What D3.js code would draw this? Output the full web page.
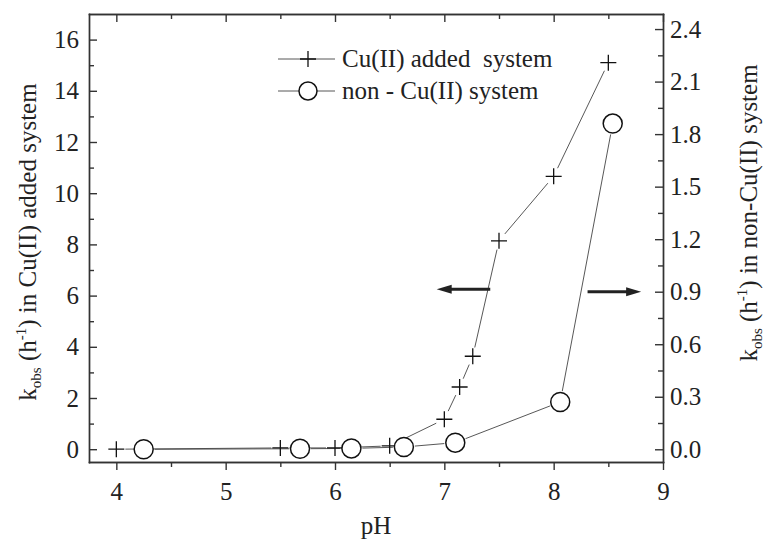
<!DOCTYPE html>
<meta charset="utf-8">
<html>
<head>
<title>kobs vs pH</title>
<script src="https://cdnjs.cloudflare.com/ajax/libs/d3/7.8.5/d3.min.js"></script>
<style>
body {
  margin: 0px;
  background: #fff;
}
svg {
  display: block;
  font-family: "Liberation Serif", "Times New Roman", serif;
}
.axis path, .axis line {
  stroke: #333;
  stroke-width: 1.4px;
}
.axis text {
  font-size: 25px;
  fill: #222;
  font-family: "Liberation Serif", "Times New Roman", serif;
}
.series {
  stroke: #444;
  stroke-width: 0.9px;
  fill: none;
}
</style>
</head>
<body>
<script>
// data
var phCu   = [4.0, 5.5, 6.0, 6.5, 7.0, 7.14, 7.26, 7.5, 8.0, 8.5];
var kCu    = [0.0, 0.05, 0.05, 0.13, 1.17, 2.43, 3.63, 8.14, 10.66, 15.1];
var phNon  = [4.25, 5.68, 6.15, 6.63, 7.1, 8.06, 8.54];
var kNon   = [0.0, 0.003, 0.005, 0.013, 0.038, 0.27, 1.86];

var xTicks = [4, 5, 6, 7, 8, 9];
var xMinor = [4.5, 5.5, 6.5, 7.5, 8.5];
var yLTicks = [0, 2, 4, 6, 8, 10, 12, 14, 16];
var yLMinor = [1, 3, 5, 7, 9, 11, 13, 15];
var yRTicks = [0, 0.3, 0.6, 0.9, 1.2, 1.5, 1.8, 2.1, 2.4];
var yRMinor = [0.15, 0.45, 0.75, 1.05, 1.35, 1.65, 1.95, 2.25];

var legendLabels = ["Cu(II) added  system", "non - Cu(II) system"];

var width = 771, height = 540;
var margin = {top: 14, right: 108, bottom: 78, left: 89};

var svg = d3.select('body').append('svg')
  .attr('width', width)
  .attr('height', height);

var x = d3.scaleLinear().domain([3.75, 9]).range([margin.left, width - margin.right]);
var yL = d3.scaleLinear().domain([-0.5, 17]).range([height - margin.bottom, margin.top]);
var yR = d3.scaleLinear().domain([-0.0726, 2.486]).range([height - margin.bottom, margin.top]);

var bottom = height - margin.bottom,
  right = width - margin.right;

// axes
function drawAxis(axis, tx, ty) {
  return svg.append('g').attr('class', 'axis')
    .attr('transform', 'translate(' + tx + ',' + ty + ')')
    .call(axis)
    .attr('font-family', null);
}

drawAxis(d3.axisBottom(x).tickValues(xTicks).tickSize(8).tickSizeOuter(0).tickPadding(12).tickFormat(d3.format('d')), 0, bottom);
drawAxis(d3.axisBottom(x).tickValues(xMinor).tickSize(5).tickSizeOuter(0).tickFormat(''), 0, bottom);
drawAxis(d3.axisTop(x).tickValues(xTicks).tickSize(-8).tickSizeOuter(0).tickFormat(''), 0, margin.top);
drawAxis(d3.axisTop(x).tickValues(xMinor).tickSize(-5).tickSizeOuter(0).tickFormat(''), 0, margin.top);

drawAxis(d3.axisLeft(yL).tickValues(yLTicks).tickSize(-8).tickSizeOuter(0).tickPadding(10).tickFormat(d3.format('d')), margin.left, 0);
drawAxis(d3.axisLeft(yL).tickValues(yLMinor).tickSize(-5).tickSizeOuter(0).tickFormat(''), margin.left, 0);

drawAxis(d3.axisRight(yR).tickValues(yRTicks).tickSize(-8).tickSizeOuter(0).tickPadding(7).tickFormat(d3.format('.1f')), right, 0);
drawAxis(d3.axisRight(yR).tickValues(yRMinor).tickSize(-5).tickSizeOuter(0).tickFormat(''), right, 0);

svg.selectAll('.axis .domain').attr('stroke-linecap', 'square');

// connecting lines, stopped short of each marker
function gappedLines(pts, gap) {
  var segs = [];
  for (var i = 1; i < pts.length; i++) {
    var a = pts[i - 1], b = pts[i],
      dx = b[0] - a[0], dy = b[1] - a[1],
      len = Math.sqrt(dx * dx + dy * dy);
    if (len <= 2 * gap) continue;
    var ux = dx / len, uy = dy / len;
    segs.push([[a[0] + ux * gap, a[1] + uy * gap], [b[0] - ux * gap, b[1] - uy * gap]]);
  }
  return segs;
}

var cuPts = phCu.map(function(p, i) { return [x(p), yL(kCu[i])]; });
var nonPts = phNon.map(function(p, i) { return [x(p), yR(kNon[i])]; });

var line = d3.line();

svg.append('g').selectAll('path')
  .data(gappedLines(cuPts, 9))
  .enter().append('path')
  .attr('class', 'series')
  .attr('d', line);

svg.append('g').selectAll('path')
  .data(gappedLines(nonPts, 11))
  .enter().append('path')
  .attr('class', 'series')
  .attr('d', line);

function plusPath(s) {
  return 'M' + (-s) + ',0H' + s + 'M0,' + (-s) + 'V' + s;
}

svg.append('g').selectAll('path')
  .data(cuPts)
  .enter().append('path')
  .attr('d', plusPath(8))
  .attr('transform', function(d) { return 'translate(' + d[0] + ',' + d[1] + ')'; })
  .attr('stroke', '#111')
  .attr('stroke-width', 1.3)
  .attr('fill', 'none');

svg.append('g').selectAll('circle')
  .data(nonPts)
  .enter().append('circle')
  .attr('cx', function(d) { return d[0]; })
  .attr('cy', function(d) { return d[1]; })
  .attr('r', 9.5)
  .attr('fill', '#fff')
  .attr('stroke', '#111')
  .attr('stroke-width', 1.5);

// direction arrows (left one -> left axis, right one -> right axis)
function arrow(x0, x1, yy) {
  var dir = x1 > x0 ? 1 : -1;
  svg.append('line')
    .attr('x1', x0).attr('y1', yy)
    .attr('x2', x1 - dir * 10).attr('y2', yy)
    .attr('stroke', '#222').attr('stroke-width', 3);
  svg.append('path')
    .attr('d', 'M' + x1 + ',' + yy + 'L' + (x1 - dir * 15) + ',' + (yy - 4.5) + 'L' + (x1 - dir * 15) + ',' + (yy + 4.5) + 'Z')
    .attr('fill', '#222');
}
arrow(x(7.42), x(6.93), yL(6.25));
arrow(x(8.31), x(8.80), yR(0.9));

// legend
var legend = svg.append('g').attr('transform', 'translate(278,59)');
legend.append('line').attr('x1', 0).attr('x2', 57).attr('y1', 0).attr('y2', 0)
  .attr('class', 'series');
legend.append('path').attr('d', plusPath(8)).attr('transform', 'translate(30,0)')
  .attr('stroke', '#111').attr('stroke-width', 1.3);
legend.append('line').attr('x1', 0).attr('x2', 57).attr('y1', 32).attr('y2', 32)
  .attr('class', 'series');
legend.append('circle').attr('cx', 30).attr('cy', 32).attr('r', 9)
  .attr('fill', '#fff').attr('stroke', '#111').attr('stroke-width', 1.5);
legend.selectAll('text.lab')
  .data(legendLabels)
  .enter().append('text')
  .attr('class', 'lab')
  .attr('x', 64)
  .attr('y', function(d, i) { return i * 32 + 8; })
  .style('font-size', '25px')
  .style('white-space', 'pre')
  .attr('fill', '#222')
  .text(function(d) { return d; });

// axis titles
svg.append('text')
  .attr('x', (margin.left + right) / 2)
  .attr('y', 534)
  .attr('text-anchor', 'middle')
  .style('font-size', '25px')
  .attr('fill', '#222')
  .text('pH');

function kTitle(cx, cy, rest) {
  var t = svg.append('text')
    .attr('transform', 'translate(' + cx + ',' + cy + ') rotate(-90)')
    .attr('text-anchor', 'middle')
    .style('font-size', '25px')
    .style('white-space', 'pre')
    .attr('fill', '#222');
  t.append('tspan').text('k');
  t.append('tspan').attr('dy', 5).style('font-size', '15px').text('obs');
  t.append('tspan').attr('dy', -5).text(' (h');
  t.append('tspan').attr('dy', -10).style('font-size', '15px').text('-1');
  t.append('tspan').attr('dy', 10).text(rest);
}
kTitle(36, 242, ') in Cu(II) added system');
kTitle(757, 213, ') in non-Cu(II) system');
</script>
</body>
</html>
